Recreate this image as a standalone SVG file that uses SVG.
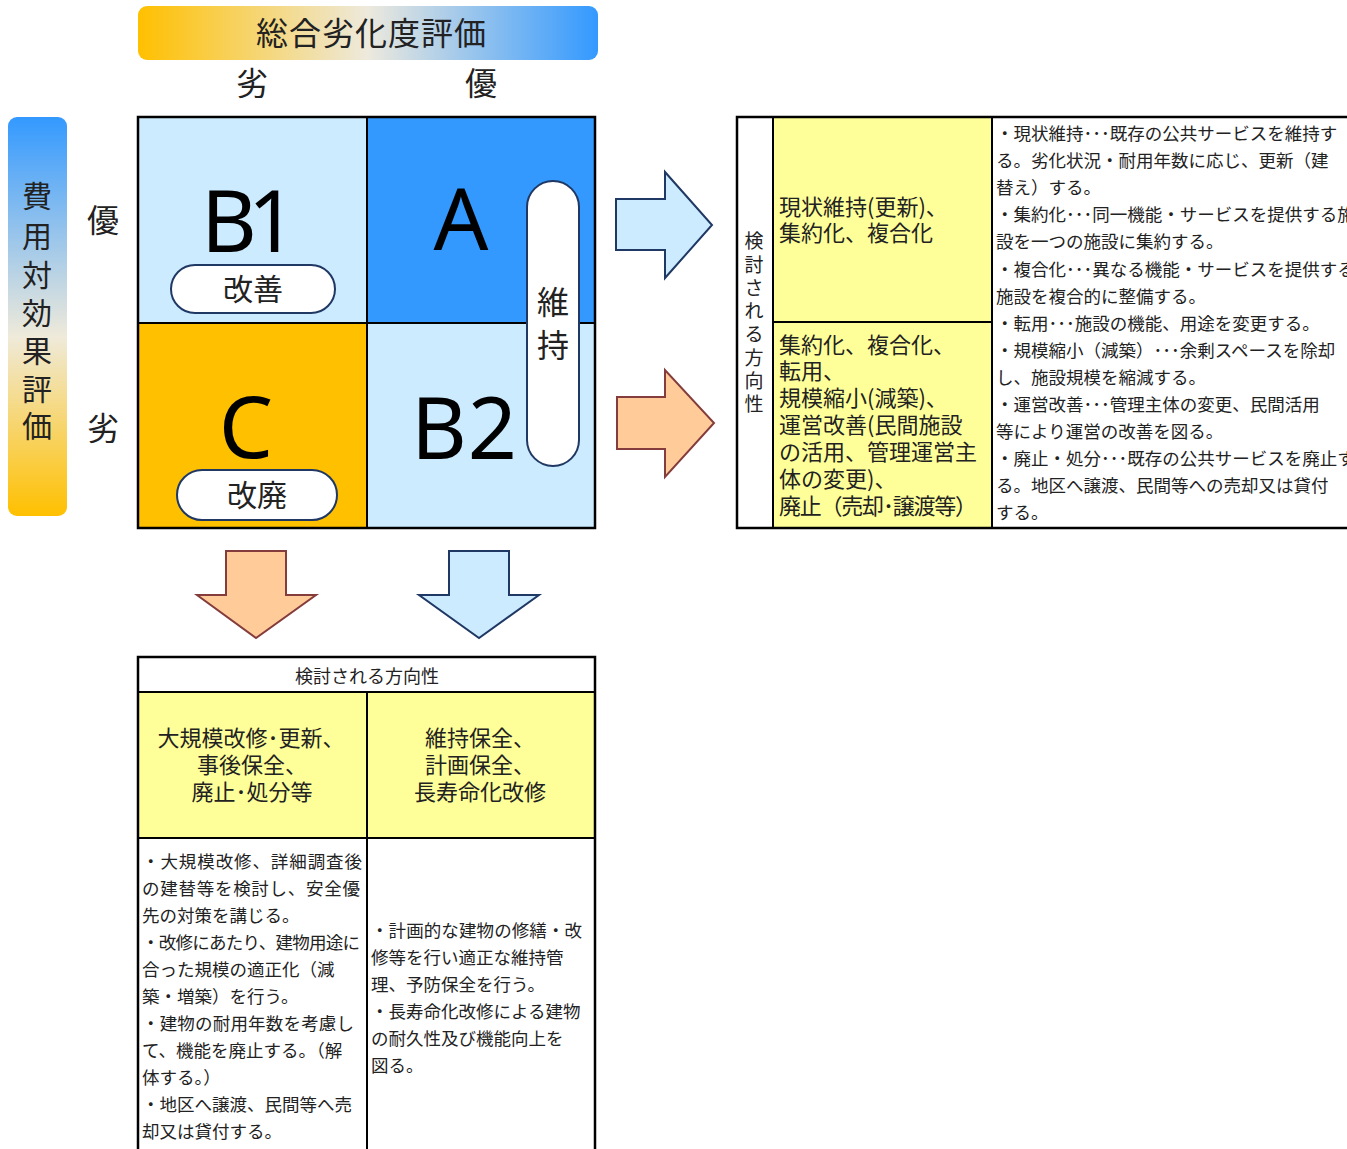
<svg xmlns="http://www.w3.org/2000/svg" width="1347" height="1149" viewBox="0 0 1347 1149">
<defs>
<linearGradient id="gH" x1="0" y1="0" x2="1" y2="0">
<stop offset="0" stop-color="#FFC000"/>
<stop offset="0.5" stop-color="#EDE9DD"/>
<stop offset="1" stop-color="#3399FF"/>
</linearGradient>
<linearGradient id="gV" x1="0" y1="0" x2="0" y2="1">
<stop offset="0" stop-color="#3399FF"/>
<stop offset="0.55" stop-color="#EFEADA"/>
<stop offset="1" stop-color="#FFC000"/>
</linearGradient>
<style>
text{font-family:'Noto Sans CJK JP','Noto Sans',sans-serif;fill:#222}
.big{font-family:'Noto Sans','Open Sans',sans-serif;font-size:86px;fill:#000}
.pill{fill:#fff;stroke:#1F3864;stroke-width:2}
.grid{stroke:#000;stroke-width:2;fill:none}
.outer{stroke:#000;stroke-width:2.5;fill:none}
.yel{fill:#FFFF99}
.y22{font-size:22px;fill:#2a2a2a}
.s17{font-size:17.5px;fill:#333}
.ab{fill:#CCEBFF;stroke:#1F3864;stroke-width:2}
.ao{fill:#FFCC99;stroke:#843C3C;stroke-width:2}
</style>
</defs>
<rect width="1347" height="1149" fill="#fff"/>

<g id="header">
<rect x="138" y="6" width="460" height="54" rx="9" fill="url(#gH)"/>
<text x="371" y="45" font-size="32" text-anchor="middle" textLength="230">総合劣化度評価</text>
<text x="252" y="95" font-size="32" text-anchor="middle">劣</text>
<text x="481" y="95" font-size="32" text-anchor="middle">優</text>
</g>

<g id="cost-axis">
<rect x="8" y="117" width="59" height="399" rx="9" fill="url(#gV)"/>
<g font-size="30" text-anchor="middle">
<text x="37" y="207">費</text>
<text x="37" y="247">用</text>
<text x="37" y="286">対</text>
<text x="37" y="324">効</text>
<text x="37" y="362">果</text>
<text x="37" y="400">評</text>
<text x="37" y="437">価</text>
</g>
<text x="103" y="232" font-size="32" text-anchor="middle">優</text>
<text x="103" y="440" font-size="32" text-anchor="middle">劣</text>
</g>

<g id="matrix">
<rect x="138" y="117" width="229" height="206" fill="#CCEBFF"/>
<rect x="367" y="117" width="228" height="206" fill="#3399FF"/>
<rect x="138" y="323" width="229" height="205" fill="#FFC000"/>
<rect x="367" y="323" width="228" height="205" fill="#CCEBFF"/>
<line class="grid" x1="367" y1="117" x2="367" y2="528"/>
<line class="grid" x1="138" y1="323" x2="595" y2="323" stroke-width="1.5"/>
<rect class="outer" x="138" y="117" width="457" height="411"/>
</g>

<g id="cell-B1">
<text class="big" x="249" y="252" text-anchor="middle" textLength="96">B1</text>
<rect class="pill" x="171" y="265" width="164" height="48" rx="24"/>
<text x="253" y="300" font-size="30" text-anchor="middle">改善</text>
</g>
<g id="cell-A">
<text class="big" x="461" y="250" text-anchor="middle">A</text>
</g>
<g id="cell-C">
<text class="big" x="246" y="458" text-anchor="middle">C</text>
<rect class="pill" x="177" y="470" width="160" height="50" rx="25"/>
<text x="257" y="506" font-size="30" text-anchor="middle">改廃</text>
</g>
<g id="cell-B2">
<text class="big" x="464" y="459" text-anchor="middle" textLength="106">B2</text>
</g>
<g id="maintain-pill">
<rect class="pill" x="527" y="181" width="52" height="285" rx="26"/>
<text x="553" y="314" font-size="32" text-anchor="middle">維</text>
<text x="553" y="357" font-size="32" text-anchor="middle">持</text>
</g>

<g id="connectors">
<path class="ab" d="M616,199 H665 V172 L712,225 L665,278 V250 H616 Z"/>
<path class="ao" d="M617,397 H665 V370 L714,423 L665,477 V449 H617 Z"/>
<path class="ao" d="M226,551 H286 V595 H316 L256,638 L197,595 H226 Z"/>
<path class="ab" d="M449,551 H509 V595 H539 L479,638 L419,595 H449 Z"/>
</g>

<g id="right-table">
<rect class="yel" x="773" y="117" width="219" height="411"/>
<line class="grid" x1="773" y1="117" x2="773" y2="528"/>
<line class="grid" x1="992" y1="117" x2="992" y2="528"/>
<line class="grid" x1="773" y1="322" x2="992" y2="322"/>
<rect class="outer" x="737" y="117" width="640" height="411"/>
<g font-size="19" text-anchor="middle" fill="#333">
<text x="754" y="248">検</text>
<text x="754" y="272">討</text>
<text x="754" y="295">さ</text>
<text x="754" y="318">れ</text>
<text x="754" y="341">る</text>
<text x="754" y="365">方</text>
<text x="754" y="388">向</text>
<text x="754" y="411">性</text>
</g>
<g class="y22">
<text x="779" y="215">現状維持(更新)、</text>
<text x="779" y="241">集約化、複合化</text>
<text x="779" y="353">集約化、複合化、</text>
<text x="779" y="379">転用、</text>
<text x="779" y="406">規模縮小(減築)、</text>
<text x="779" y="433">運営改善(民間施設</text>
<text x="779" y="460">の活用、管理運営主</text>
<text x="779" y="487">体の変更)、</text>
<text x="779" y="514" textLength="198">廃止（売却･譲渡等）</text>
</g>
<g class="s17">
<text x="996" y="140">・現状維持･･･既存の公共サービスを維持す</text>
<text x="996" y="167">る。劣化状況・耐用年数に応じ、更新（建</text>
<text x="996" y="194">替え）する。</text>
<text x="996" y="221">・集約化･･･同一機能・サービスを提供する施</text>
<text x="996" y="248">設を一つの施設に集約する。</text>
<text x="996" y="276">・複合化･･･異なる機能・サービスを提供する</text>
<text x="996" y="303">施設を複合的に整備する。</text>
<text x="996" y="330">・転用･･･施設の機能、用途を変更する。</text>
<text x="996" y="357">・規模縮小（減築）･･･余剰スペースを除却</text>
<text x="996" y="384">し、施設規模を縮減する。</text>
<text x="996" y="411">・運営改善･･･管理主体の変更、民間活用</text>
<text x="996" y="438">等により運営の改善を図る。</text>
<text x="996" y="465">・廃止・処分･･･既存の公共サービスを廃止す</text>
<text x="996" y="492">る。地区へ譲渡、民間等への売却又は貸付</text>
<text x="996" y="519">する。</text>
</g>
</g>

<g id="bottom-table">
<rect class="yel" x="138" y="692" width="457" height="146"/>
<line class="grid" x1="138" y1="692" x2="595" y2="692"/>
<line class="grid" x1="138" y1="838" x2="595" y2="838"/>
<line class="grid" x1="367" y1="692" x2="367" y2="1149"/>
<rect class="outer" x="138" y="657" width="457" height="520"/>
<text x="367" y="683" font-size="18" text-anchor="middle" fill="#444">検討される方向性</text>
<g class="y22" text-anchor="middle">
<text x="251" y="746">大規模改修･更新、</text>
<text x="252" y="773">事後保全、</text>
<text x="252" y="800">廃止･処分等</text>
<text x="480" y="746">維持保全、</text>
<text x="480" y="773">計画保全、</text>
<text x="480" y="800">長寿命化改修</text>
</g>
<g class="s17">
<text x="142" y="868" textLength="220">・大規模改修、詳細調査後</text>
<text x="142" y="895" textLength="218">の建替等を検討し、安全優</text>
<text x="142" y="922">先の対策を講じる。</text>
<text x="142" y="949" textLength="218">・改修にあたり、建物用途に</text>
<text x="142" y="976">合った規模の適正化（減</text>
<text x="142" y="1003">築・増築）を行う。</text>
<text x="142" y="1030" textLength="212">・建物の耐用年数を考慮し</text>
<text x="142" y="1057">て、機能を廃止する。（解</text>
<text x="142" y="1084">体する。）</text>
<text x="142" y="1111">・地区へ譲渡、民間等へ売</text>
<text x="142" y="1138">却又は貸付する。</text>
<text x="371" y="937" textLength="211">・計画的な建物の修繕・改</text>
<text x="371" y="964">修等を行い適正な維持管</text>
<text x="371" y="991">理、予防保全を行う。</text>
<text x="371" y="1018">・長寿命化改修による建物</text>
<text x="371" y="1045">の耐久性及び機能向上を</text>
<text x="371" y="1072">図る。</text>
</g>
</g>
</svg>
